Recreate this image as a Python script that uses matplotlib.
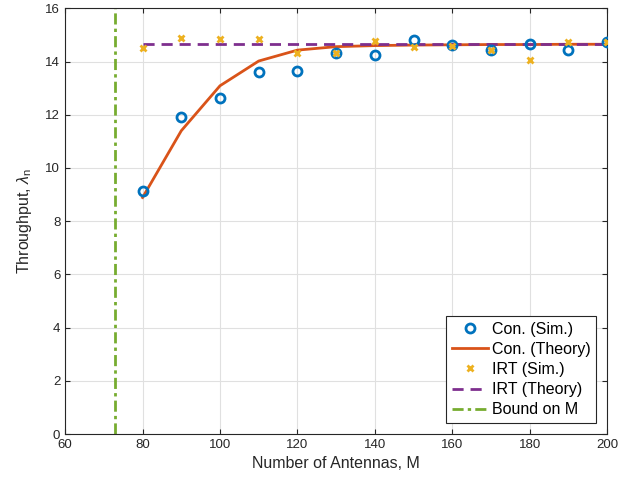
import numpy as np
import matplotlib.pyplot as plt

plt.rcParams['font.family'] = ['Liberation Sans', 'DejaVu Sans']
plt.rcParams['mathtext.fontset'] = 'custom'
plt.rcParams['mathtext.rm'] = 'Liberation Sans'
plt.rcParams['mathtext.it'] = 'Liberation Sans:italic'

# data
M = [80, 90, 100, 110, 120, 130, 140, 150, 160, 170, 180, 190, 200]
con_sim = [9.14, 11.92, 12.62, 13.62, 13.65, 14.31, 14.26, 14.81, 14.62, 14.43, 14.65, 14.43, 14.73]
con_theory = [8.89, 11.4, 13.09, 14.02, 14.43, 14.56, 14.6, 14.62, 14.63, 14.64, 14.64, 14.65, 14.65]
irt_sim = [14.52, 14.9, 14.85, 14.85, 14.31, 14.33, 14.77, 14.56, 14.6, 14.44, 14.07, 14.72, 14.75]
irt_theory = [14.66] * len(M)
bound_M = 73

fig = plt.figure(figsize=(6.39, 4.91), dpi=100)
ax = fig.add_axes([0.102, 0.116, 0.848, 0.867])

ax.plot(M, con_sim, 'o', color='#0072BD', markerfacecolor='none',
        markersize=6.5, markeredgewidth=2, label='Con. (Sim.)', zorder=3)
ax.plot(M, con_theory, '-', color='#D95319', linewidth=2, label='Con. (Theory)', zorder=2)
ax.plot(M, irt_sim, 'x', color='#EDB120', markersize=4.5, markeredgewidth=2,
        label='IRT (Sim.)', zorder=4)
ax.plot(M, irt_theory, '--', color='#7E2F8E', linewidth=2, dashes=(4, 2.5),
        label='IRT (Theory)', zorder=2)
ax.axvline(bound_M, color='#77AC30', linestyle='-.', linewidth=2,
           dashes=(4, 1.5, 1.2, 1.5), label='Bound on M')

ax.set_xlim(60, 200)
ax.set_ylim(0, 16)
ax.set_xticks(np.arange(60, 201, 20))
ax.set_yticks(np.arange(0, 17, 2))
ax.grid(True, color='#e0e0e0', linewidth=0.8)
ax.set_axisbelow(True)
ax.tick_params(direction='in', top=True, right=True, labelsize=9.5, colors='#262626')
for s in ax.spines.values():
    s.set_color('#262626')
    s.set_linewidth(0.8)

ax.set_xlabel('Number of Antennas, M', fontsize=11.5, color='#262626')
ax.set_ylabel(r'Throughput, $\lambda_\mathrm{n}$', fontsize=11.5, color='#262626',
              labelpad=8)

leg = ax.legend(loc='lower right', fontsize=11.5, fancybox=False, framealpha=1,
                edgecolor='#262626', borderpad=0.35, labelspacing=0.32,
                handlelength=2.3, handletextpad=0.2, borderaxespad=0.7)
leg.get_frame().set_linewidth(0.8)

fig.savefig('out.png', dpi=100)
